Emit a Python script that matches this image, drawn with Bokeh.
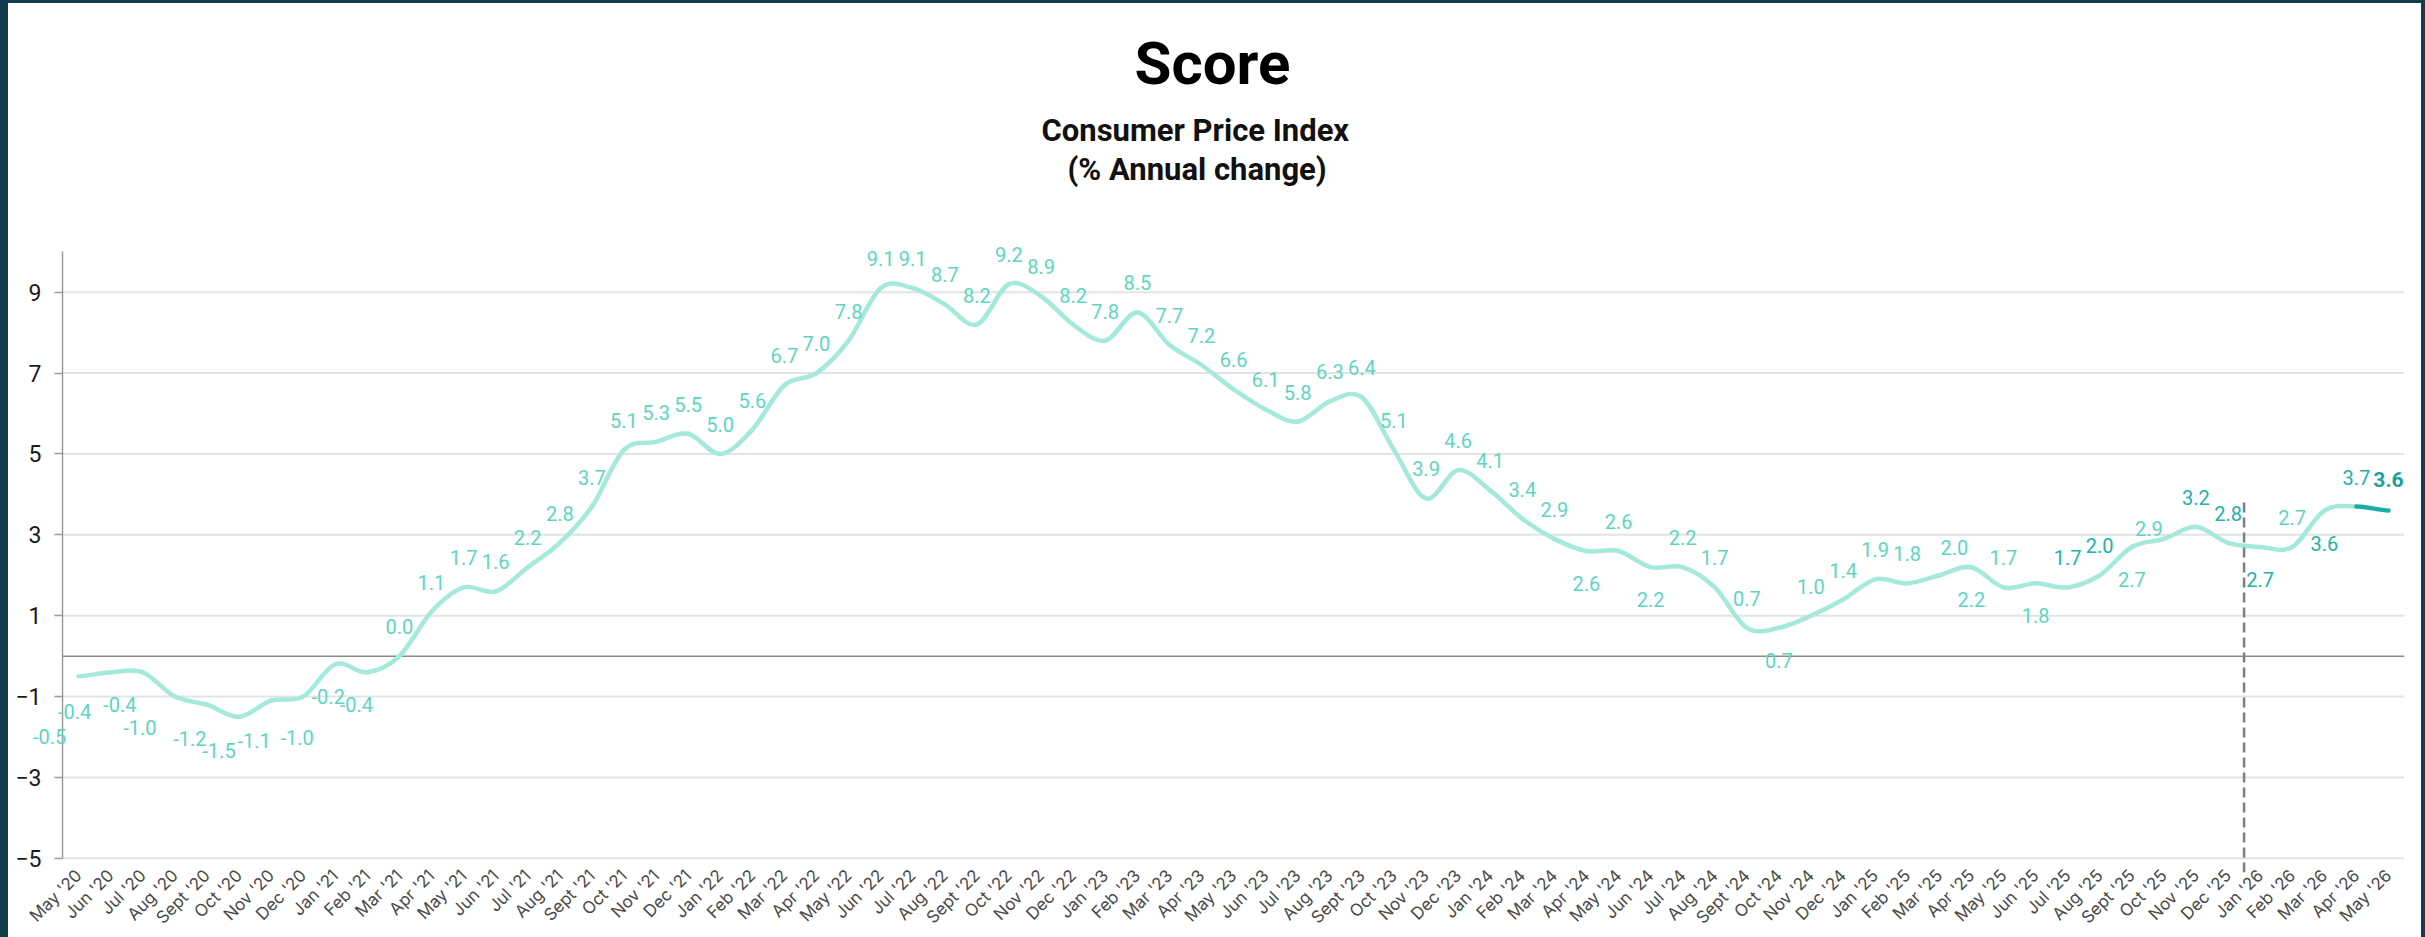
import math
from bokeh.plotting import figure
from bokeh.models import (ColumnDataSource, Range1d, FixedTicker, Arrow, Title,
                          LabelSet, GlobalInlineStyleSheet)
from bokeh.core.properties import value
from bokeh.embed import file_html
from bokeh.resources import INLINE

# ---------------- data ----------------
MONTHS = [
    "May '20", "Jun '20", "Jul '20", "Aug '20", "Sept '20", "Oct '20", "Nov '20", "Dec '20",
    "Jan '21", "Feb '21", "Mar '21", "Apr '21", "May '21", "Jun '21", "Jul '21", "Aug '21",
    "Sept '21", "Oct '21", "Nov '21", "Dec '21",
    "Jan '22", "Feb '22", "Mar '22", "Apr '22", "May '22", "Jun '22", "Jul '22", "Aug '22",
    "Sept '22", "Oct '22", "Nov '22", "Dec '22",
    "Jan '23", "Feb '23", "Mar '23", "Apr '23", "May '23", "Jun '23", "Jul '23", "Aug '23",
    "Sept '23", "Oct '23", "Nov '23", "Dec '23",
    "Jan '24", "Feb '24", "Mar '24", "Apr '24", "May '24", "Jun '24", "Jul '24", "Aug '24",
    "Sept '24", "Oct '24", "Nov '24", "Dec '24",
    "Jan '25", "Feb '25", "Mar '25", "Apr '25", "May '25", "Jun '25", "Jul '25", "Aug '25",
    "Sept '25", "Oct '25", "Nov '25", "Dec '25",
    "Jan '26", "Feb '26", "Mar '26", "Apr '26", "May '26",
]

CPI = [
    -0.5, -0.4, -0.4, -1.0, -1.2, -1.5, -1.1, -1.0,
    -0.2, -0.4, 0.0, 1.1, 1.7, 1.6, 2.2, 2.8, 3.7, 5.1, 5.3, 5.5,
    5.0, 5.6, 6.7, 7.0, 7.8, 9.1, 9.1, 8.7, 8.2, 9.2, 8.9, 8.2,
    7.8, 8.5, 7.7, 7.2, 6.6, 6.1, 5.8, 6.3, 6.4, 5.1, 3.9, 4.6,
    4.1, 3.4, 2.9, 2.6, 2.6, 2.2, 2.2, 1.7, 0.7, 0.7, 1.0, 1.4,
    1.9, 1.8, 2.0, 2.2, 1.7, 1.8, 1.7, 2.0, 2.7, 2.9, 3.2, 2.8,
    2.7, 2.7, 3.6, 3.7, 3.6,
]

# months whose value label sits under the line
LABEL_BELOW = ["May '20", "Jun '20", "Jul '20", "Aug '20", "Sept '20", "Oct '20", "Nov '20",
               "Dec '20", "Jan '21", "Feb '21", "Apr '24", "Jun '24", "Oct '24", "Apr '25",
               "Jun '25", "Sept '25", "Jan '26", "Mar '26"]
# months whose value label is drawn in the darker teal
LABEL_DARK = ["Jul '25", "Aug '25", "Nov '25", "Dec '25", "Jan '26", "Mar '26", "Apr '26"]
LATEST = "May '26"
# label nudges (pixels: dx, baseline distance from the point; + = below)
LABEL_NUDGE = {
    "May '20": (-29, 68), "Jun '20": (-36, 47), "Jul '20": (-23, 40), "Aug '20": (-35, 38),
    "Sept '20": (-17, 41), "Oct '20": (-20, 41), "Nov '20": (-17, 47), "Dec '20": (-6, 48),
    "Jan '21": (-7, 40), "Feb '21": (-11, 40), "Mar '25": (15, -20), "Oct '25": (-15, -3),
}
DIVIDER_AFTER = "Dec '25"
DIVIDER_TOP = 3.9
Y_TICKS = [-5, -3, -1, 1, 3, 5, 7, 9]
Y_MIN, Y_MAX = -5, 10

LINE_LIGHT = "#a5e9da"
LINE_DARK = "#1aaea8"
LBL_LIGHT = "#5dd6bf"
LBL_DARK = "#22b2aa"
GRID = "#e3e3e3"
ZERO = "#8a8a8a"

# ---------------- figure ----------------
n = len(CPI)
x_lo, x_hi = -0.5, n - 0.5          # edges of the month bands
p = figure(width=2413, height=934, output_backend="svg", toolbar_location=None,
           x_range=Range1d(x_lo - 1.56, x_hi), y_range=Range1d(Y_MIN - 0.35, Y_MAX + 0.6),
           min_border_left=4, min_border_right=17, min_border_bottom=62, min_border_top=0,
           background_fill_color="white", border_fill_color="white", outline_line_color=None)
p.styles = {"background-color": "white"}
p.stylesheets = [GlobalInlineStyleSheet(
    css="html,body{background:#123d4f;} body{margin:3px 4px 0 8px;}")]

# titles (first added sits closest to the plot)
p.add_layout(Title(text=" ", text_font_size="1px", standoff=37), "above")
p.add_layout(Title(text="(% Annual change)", align="left", offset=1055,
                   text_font="Roboto", text_font_size="31px", text_font_style="bold",
                   text_color="#111111", standoff=0), "above")
p.add_layout(Title(text="Consumer Price Index", align="left", offset=1029,
                   text_font="Roboto", text_font_size="31px", text_font_style="bold",
                   text_color="#111111", standoff=0), "above")
p.add_layout(Title(text="Score", align="left", offset=1122,
                   text_font="Roboto", text_font_size="60px", text_font_style="bold",
                   text_color="#000000", standoff=22), "above")
p.add_layout(Title(text=" ", text_font_size="1px", standoff=8), "above")

# axes
xa = p.xaxis[0]
xa.ticker = FixedTicker(ticks=list(range(n)))
xa.major_label_overrides = {i: m for i, m in enumerate(MONTHS)}
xa.major_label_orientation = math.pi / 4
xa.axis_line_color = None
xa.major_tick_line_color = None
xa.major_tick_out = 0
xa.minor_tick_line_color = None
xa.major_label_standoff = 0
xa.major_label_text_font = "Inter"
xa.major_label_text_font_size = "17px"
xa.major_label_text_color = "#4a4a4a"

ya = p.yaxis[0]
ya.fixed_location = x_lo
ya.bounds = (Y_MIN, Y_MAX)
ya.ticker = FixedTicker(ticks=Y_TICKS)
ya.axis_line_color = "#9a9a9a"
ya.axis_line_width = 1.5
ya.major_tick_line_color = "#9a9a9a"
ya.major_tick_line_width = 1.5
ya.major_tick_out = 8
ya.major_tick_in = 0
ya.minor_tick_line_color = None
ya.major_label_standoff = 13
ya.major_label_text_font = "Roboto"
ya.major_label_text_font_size = "23px"
ya.major_label_text_color = "#1a1a1a"

p.xgrid.visible = False
p.ygrid.visible = False
# horizontal grid lines, spanning the month bands only
p.segment(x0=[x_lo] * len(Y_TICKS), x1=[x_hi] * len(Y_TICKS), y0=Y_TICKS, y1=Y_TICKS,
          line_color=GRID, line_width=2, level="underlay")
p.segment(x0=[x_lo], x1=[x_hi], y0=[0], y1=[0], line_color=ZERO, line_width=1.5,
          level="underlay")

# smooth line (Catmull-Rom spline drawn as bezier segments through the data points)
xs = list(range(n))
seg = dict(x0=[], y0=[], x1=[], y1=[], cx0=[], cy0=[], cx1=[], cy1=[], color=[])
latest_i = MONTHS.index(LATEST)
for i in range(n - 1):
    y_prev = CPI[i - 1] if i > 0 else CPI[i]
    y_next2 = CPI[i + 2] if i + 2 < n else CPI[i + 1]
    seg["x0"].append(xs[i]); seg["y0"].append(CPI[i])
    seg["x1"].append(xs[i + 1]); seg["y1"].append(CPI[i + 1])
    seg["cx0"].append(xs[i] + 1 / 3); seg["cy0"].append(CPI[i] + (CPI[i + 1] - y_prev) / 6)
    seg["cx1"].append(xs[i + 1] - 1 / 3); seg["cy1"].append(CPI[i + 1] - (y_next2 - CPI[i]) / 6)
    seg["color"].append(LINE_DARK if i + 1 == latest_i else LINE_LIGHT)
p.bezier(x0="x0", y0="y0", x1="x1", y1="y1", cx0="cx0", cy0="cy0", cx1="cx1", cy1="cy1",
         source=ColumnDataSource(seg), line_color="color", line_width=4.5, line_cap="round")

# divider before the forecast window
div_x = MONTHS.index(DIVIDER_AFTER) + 0.5
p.add_layout(Arrow(end=None, x_start=div_x, y_start=Y_MIN - 0.35, x_end=div_x,
                   y_end=DIVIDER_TOP, line_color="#7f7f7f", line_width=2.5, line_dash="10 5",
                   level="overlay"))

# value labels
lab = dict(x=[], y=[], text=[], dx=[], dy=[], color=[])
for i, (m, v) in enumerate(zip(MONTHS, CPI)):
    if m == LATEST:
        continue
    dx, dy = LABEL_NUDGE.get(m, (0, 40 if m in LABEL_BELOW else -22))
    lab["x"].append(i); lab["y"].append(v); lab["text"].append(f"{v:.1f}")
    lab["dx"].append(dx); lab["dy"].append(-dy)
    lab["color"].append(LBL_DARK if m in LABEL_DARK else LBL_LIGHT)
p.add_layout(LabelSet(x="x", y="y", text="text", x_offset="dx", y_offset="dy",
                      source=ColumnDataSource(lab), text_color="color",
                      text_font=value("Roboto"), text_font_size=value("20px"),
                      text_align="center", text_baseline="alphabetic", level="overlay"))

li = MONTHS.index(LATEST)
p.add_layout(LabelSet(x="x", y="y", text="text", x_offset=0, y_offset=24,
                      source=ColumnDataSource(dict(x=[li], y=[CPI[li]], text=[f"{CPI[li]:.1f}"])),
                      text_color="#14a39c", text_font=value("Roboto"),
                      text_font_size=value("21px"), text_font_style="bold",
                      text_align="center", text_baseline="alphabetic", level="overlay"))

open("out.html", "w").write(file_html(p, INLINE, title="Score"))
